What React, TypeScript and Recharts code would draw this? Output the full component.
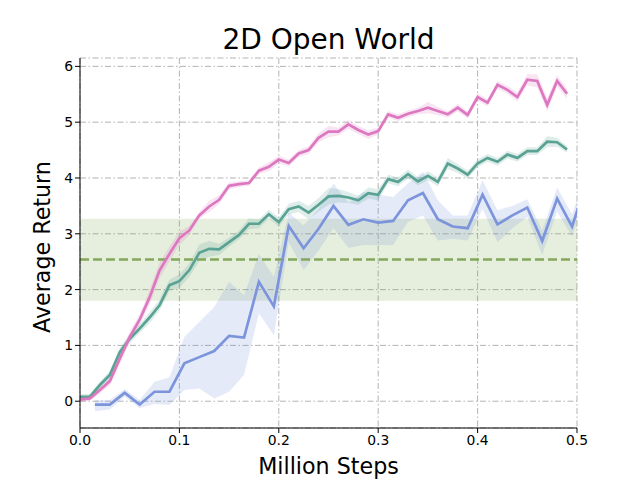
import React from "react";
import {
  ComposedChart, Line, Area, XAxis, YAxis, CartesianGrid,
  ReferenceArea, ReferenceLine,
} from "recharts";

// x positions (million steps)
const steps = [
  0, 0.01, 0.02, 0.03, 0.04, 0.05, 0.06, 0.07, 0.08, 0.09,
  0.1, 0.11, 0.12, 0.13, 0.14, 0.15, 0.16, 0.17, 0.18, 0.19,
  0.2, 0.21, 0.22, 0.23, 0.24, 0.25, 0.26, 0.27, 0.28, 0.29,
  0.3, 0.31, 0.32, 0.33, 0.34, 0.35, 0.36, 0.37, 0.38, 0.39,
  0.4, 0.41, 0.42, 0.43, 0.44, 0.45, 0.46, 0.47, 0.48, 0.49,
];

const pinkMean = [
  0.03, 0.05, 0.2, 0.36, 0.76, 1.15, 1.46, 1.86, 2.34, 2.64,
  2.92, 3.06, 3.33, 3.49, 3.61, 3.86, 3.89, 3.91, 4.13, 4.2,
  4.33, 4.27, 4.44, 4.5, 4.72, 4.83, 4.83, 4.96, 4.86, 4.78,
  4.84, 5.14, 5.08, 5.15, 5.2, 5.26, 5.2, 5.14, 5.26, 5.13,
  5.45, 5.35, 5.67, 5.58, 5.45, 5.76, 5.74, 5.31, 5.74, 5.51,
];
const pinkSpread = [
  0.04, 0.04, 0.06, 0.08, 0.1, 0.1, 0.1, 0.13, 0.14, 0.13,
  0.12, 0.08, 0.06, 0.1, 0.08, 0.06, 0.05, 0.05, 0.06, 0.08,
  0.07, 0.06, 0.06, 0.07, 0.08, 0.1, 0.07, 0.08, 0.07, 0.08,
  0.06, 0.06, 0.06, 0.06, 0.06, 0.1, 0.07, 0.06, 0.07, 0.06,
  0.07, 0.06, 0.07, 0.07, 0.08, 0.1, 0.12, 0.12, 0.1, 0.09,
];

const tealMean = [
  0.08, 0.08, 0.29, 0.47, 0.88, 1.12, 1.3, 1.5, 1.72, 2.08,
  2.15, 2.35, 2.66, 2.73, 2.72, 2.85, 2.98, 3.18, 3.18, 3.35,
  3.21, 3.44, 3.49, 3.38, 3.52, 3.67, 3.68, 3.65, 3.6, 3.73,
  3.7, 3.98, 3.93, 4.07, 3.94, 4.04, 3.93, 4.26, 4.17, 4.06,
  4.26, 4.36, 4.29, 4.42, 4.36, 4.48, 4.48, 4.65, 4.64, 4.51,
];
const tealSpread = [
  0.05, 0.05, 0.06, 0.07, 0.08, 0.08, 0.08, 0.1, 0.1, 0.1,
  0.12, 0.12, 0.15, 0.14, 0.1, 0.08, 0.08, 0.1, 0.08, 0.08,
  0.08, 0.1, 0.1, 0.12, 0.12, 0.15, 0.12, 0.1, 0.08, 0.1,
  0.1, 0.08, 0.08, 0.08, 0.07, 0.08, 0.08, 0.1, 0.08, 0.07,
  0.07, 0.07, 0.07, 0.07, 0.07, 0.07, 0.07, 0.1, 0.08, 0.06,
];

const blueSteps = [
  0.015, 0.03, 0.045, 0.06, 0.075, 0.09, 0.105, 0.12, 0.135, 0.15,
  0.165, 0.18, 0.195, 0.21, 0.225, 0.24, 0.255, 0.27, 0.285, 0.3,
  0.315, 0.33, 0.345, 0.36, 0.375, 0.39, 0.405, 0.42, 0.435, 0.45,
  0.465, 0.48, 0.495, 0.51,
];
const blueMean = [
  -0.06, -0.06, 0.15, -0.06, 0.17, 0.17, 0.68, 0.79, 0.9, 1.17,
  1.14, 2.14, 1.7, 3.14, 2.74, 3.09, 3.5, 3.16, 3.26, 3.2,
  3.23, 3.6, 3.73, 3.26, 3.13, 3.1, 3.7, 3.17, 3.33, 3.47,
  2.87, 3.63, 3.13, 3.95,
];
const blueLow = [
  -0.18, -0.15, 0.08, -0.12, -0.05, -0.07, 0.2, 0.23, 0.05, 0.17,
  0.47, 1.57, 1.18, 2.85, 2.35, 2.7, 3.1, 2.75, 2.8, 2.8,
  2.8, 3.21, 3.33, 2.88, 2.91, 2.88, 3.45, 2.85, 3.1, 3.3,
  2.62, 3.4, 2.95, 3.8,
];
const blueHigh = [
  0.02, 0.02, 0.22, 0.02, 0.35, 0.43, 1.15, 1.42, 1.69, 2.14,
  1.9, 2.64, 2.23, 3.38, 3.15, 3.45, 3.9, 3.55, 3.75, 3.7,
  3.66, 3.9, 4.11, 3.6, 3.33, 3.33, 3.96, 3.42, 3.5, 3.62,
  3.06, 3.83, 3.35, 4.1,
];

// baseline band
const baselineMean = 2.54;
const baselineLow = 1.8;
const baselineHigh = 3.27;

const xTicks = [0, 0.1, 0.2, 0.3, 0.4, 0.5];
const yTicks = [0, 1, 2, 3, 4, 5, 6];

const pinkData = steps.map((x, i) => ({
  x,
  mean: pinkMean[i],
  band: [pinkMean[i] - pinkSpread[i], pinkMean[i] + pinkSpread[i]],
}));
const tealData = steps.map((x, i) => ({
  x,
  mean: tealMean[i],
  band: [tealMean[i] - tealSpread[i], tealMean[i] + tealSpread[i]],
}));
const blueData = blueSteps.map((x, i) => ({
  x,
  mean: blueMean[i],
  band: [blueLow[i], blueHigh[i]],
}));

const PINK = "#dd78c0";
const TEAL = "#5aa394";
const BLUE = "#7b94dc";
const GREEN = "#84a85b";
const FONT = "DejaVu Sans, sans-serif";

export default function App() {
  const tick = { fontSize: 13.9, fill: "#000", fontFamily: FONT };
  return (
    <div style={{ position: "absolute", left: 0, top: 0, width: 640, height: 480, background: "#fff", fontFamily: FONT }}>
      <div style={{ position: "absolute", left: 80, width: 497, top: 23, lineHeight: "34px", textAlign: "center", fontSize: 28 }}>
        2D Open World
      </div>
      <div style={{ position: "absolute", left: 80, width: 497, top: 451, lineHeight: "30px", textAlign: "center", fontSize: 22.2 }}>
        Million Steps
      </div>
      <div
        style={{
          position: "absolute", left: 42 - 150, top: 247 - 15, width: 300, lineHeight: "30px",
          textAlign: "center", fontSize: 22.2, transform: "rotate(-90deg)",
        }}
      >
        Average Return
      </div>
      <ComposedChart width={640} height={480} margin={{ top: 58, right: 63, left: 0, bottom: 0 }}>
        <CartesianGrid stroke="#aaaaaa" strokeDasharray="6 2.5 1.5 2.5" strokeWidth={0.9} />
        <XAxis
          dataKey="x" type="number" domain={[0, 0.5]} ticks={xTicks} allowDataOverflow
          tickFormatter={(v: number) => v.toFixed(1)} tick={tick} height={52}
          stroke="#000" tickSize={5} tickLine={{ stroke: "#000" }}
        />
        <XAxis xAxisId="top" orientation="top" type="number" domain={[0, 0.5]} height={0} tick={false} tickLine={false} stroke="#000" />
        <YAxis
          type="number" domain={[-0.48, 6.15]} ticks={yTicks} allowDataOverflow
          tick={tick} width={80} stroke="#000" tickSize={5} tickLine={{ stroke: "#000" }}
        />
        <YAxis yAxisId="right" orientation="right" domain={[0, 1]} width={0} tick={false} tickLine={false} stroke="#000" />
        <ReferenceArea y1={baselineLow} y2={baselineHigh} fill={GREEN} fillOpacity={0.2} stroke="none" />
        <ReferenceLine y={baselineMean} stroke={GREEN} strokeWidth={2.5} strokeDasharray="9 4" />
        <Area data={blueData} dataKey="band" type="linear" stroke="none" fill={BLUE} fillOpacity={0.2} isAnimationActive={false} />
        <Area data={tealData} dataKey="band" type="linear" stroke="none" fill={TEAL} fillOpacity={0.2} isAnimationActive={false} />
        <Area data={pinkData} dataKey="band" type="linear" stroke="none" fill={PINK} fillOpacity={0.2} isAnimationActive={false} />
        <Line data={blueData} dataKey="mean" type="linear" stroke={BLUE} strokeWidth={2.7} dot={false} isAnimationActive={false} />
        <Line data={tealData} dataKey="mean" type="linear" stroke={TEAL} strokeWidth={2.7} dot={false} isAnimationActive={false} />
        <Line data={pinkData} dataKey="mean" type="linear" stroke={PINK} strokeWidth={2.7} dot={false} isAnimationActive={false} />
      </ComposedChart>
    </div>
  );
}
